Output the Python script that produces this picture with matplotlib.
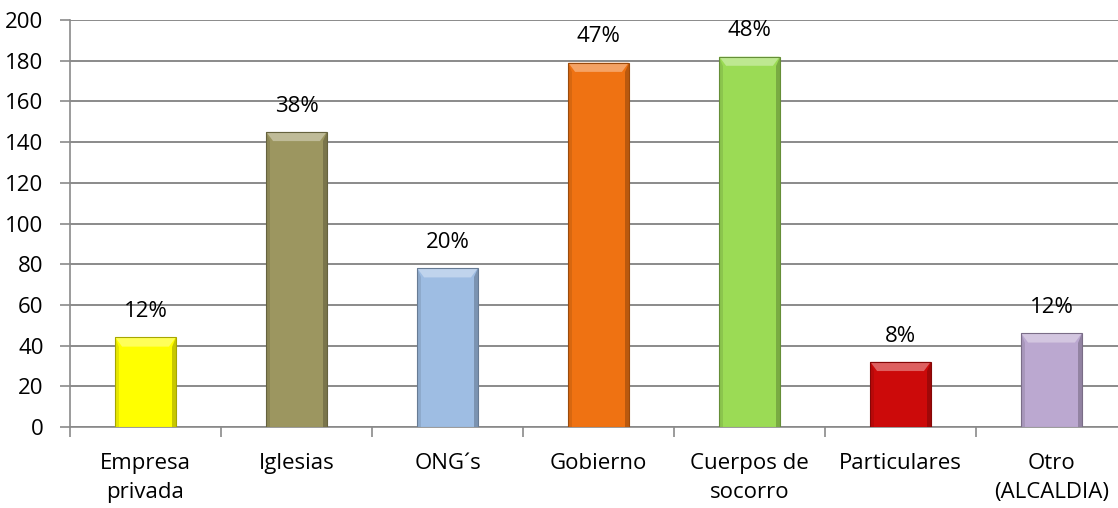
import matplotlib
matplotlib.use("Agg")
import matplotlib.pyplot as plt
from matplotlib.patches import Polygon
import numpy as np

categories = ["Empresa\nprivada", "Iglesias", "ONG´s", "Gobierno", "Cuerpos de\nsocorro", "Particulares", "Otro\n(ALCALDIA)"]
values = [44, 145, 78, 179, 182, 32, 46]
pct_labels = ["12%", "38%", "20%", "47%", "48%", "8%", "12%"]
colors = ["#FFFF00", "#9C9660", "#9EBDE3", "#EF7212", "#9BDB55", "#CC0A0A", "#BBA8D0"]
yticks = [0, 20, 40, 60, 80, 100, 120, 140, 160, 180, 200]

plt.rcParams['font.family'] = ['Open Sans', 'DejaVu Sans']

W, H = 1118, 508
fig = plt.figure(figsize=(W/100, H/100), dpi=100)
left, right, bottom, top = 70, 1127, 427, 20
ax = fig.add_axes([left/W, (H-bottom)/H, (right-left)/W, (bottom-top)/H])

x = np.arange(len(categories))
bw = 0.4
bars = ax.bar(x, values, width=bw, color=colors, edgecolor="none", zorder=3)

def shade(c, f):
    rgb = np.array(matplotlib.colors.to_rgb(c))
    if f > 0:
        return tuple(rgb + (1 - rgb) * f)
    return tuple(rgb * (1 + f))

# bevel effect
bev_x = 0.045
bev_y = 4.5
for b, c in zip(bars, colors):
    x0, w, h = b.get_x(), b.get_width(), b.get_height()
    x1 = x0 + w
    ax.add_patch(Polygon([(x0, h), (x1, h), (x1 - bev_x, h - bev_y), (x0 + bev_x, h - bev_y)],
                         closed=True, color=shade(c, 0.35), lw=0, zorder=4))
    ax.add_patch(Polygon([(x1, h), (x1, 0), (x1 - bev_x*0.5, 0), (x1 - bev_x*0.5, h - bev_y)],
                         closed=True, color=shade(c, -0.22), lw=0, zorder=4))
    ax.add_patch(Polygon([(x0, h), (x0, 0), (x0 + bev_x*0.5, 0), (x0 + bev_x*0.5, h - bev_y)],
                         closed=True, color=shade(c, -0.10), lw=0, zorder=4))
    ax.add_patch(matplotlib.patches.Rectangle((x0, 0), w, h, fill=False,
                 edgecolor=shade(c, -0.35), lw=0.8, zorder=5))

for xi, v, t in zip(x, values, pct_labels):
    ax.text(xi, v + 7.5, t, ha="center", va="bottom", fontsize=16, color="black")

ax.set_xlim(-0.5, len(categories) - 0.5)
ax.set_ylim(0, 200)
ax.set_yticks(yticks)
ax.set_yticklabels([str(t) for t in yticks], fontsize=16)
ax.yaxis.grid(True, color="#8A8A8A", lw=1.4, zorder=0)
ax.set_axisbelow(True)

ax.set_xticks(x)
ax.set_xticklabels(categories, fontsize=16, linespacing=1.45)
ax.set_xticks(np.arange(len(categories) + 1) - 0.5, minor=True)
ax.tick_params(axis="x", which="major", length=0, pad=19)
ax.tick_params(axis="x", which="minor", length=7, color="#8A8A8A", width=1.2, direction="out")
ax.tick_params(axis="y", length=7, color="#8A8A8A", width=1.2, pad=12)

for s in ["top", "right"]:
    ax.spines[s].set_visible(False)
ax.spines["left"].set_color("#8A8A8A")
ax.spines["left"].set_linewidth(1.2)
ax.spines["bottom"].set_color("#8A8A8A")
ax.spines["bottom"].set_linewidth(1.2)

fig.savefig("out.png", dpi=100)
